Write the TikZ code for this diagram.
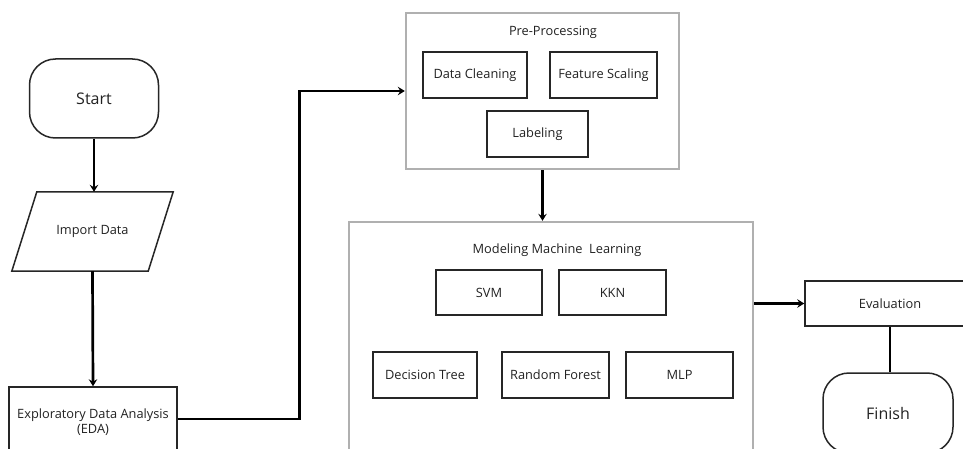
\documentclass[tikz,border=0pt]{standalone}
\usepackage{fontspec}
\setmainfont{Open Sans}
\usetikzlibrary{arrows.meta,calc}
\definecolor{txt}{HTML}{222222}
\definecolor{frame}{HTML}{B0B0B0}
\begin{document}
\begin{tikzpicture}[x=1pt,y=-1pt,
  every node/.style={text=txt, font=\fontsize{12.8}{15.5}\selectfont, inner sep=0pt, align=center},
  box/.style={draw=black!85, line width=1.5pt, minimum width=#1, minimum height=46},
  box/.default=105,
  container/.style={draw=frame, line width=2.4pt},
  term/.style={draw=black!85, line width=1.5pt, rounded corners=26pt, minimum width=129, minimum height=79, font=\fontsize{16}{19}\selectfont},
  arr/.style={line width=2.7pt, -{Stealth[length=7pt,width=8.5pt,inset=2.5pt]}},
  plain/.style={line width=2.7pt}]
\useasboundingbox (0,0) rectangle (963,449);
\clip (0,0) rectangle (963,449);
\fill[white] (0,0) rectangle (963,449);

% left column
\node[term] (start) at (94,98.5) {Start};
\node[minimum width=136, minimum height=79] (imp) at (92.5,231.5) {Import Data};
\draw[line width=1.5pt, draw=black!85] ($(imp.north west)+(12.5,0)$) -- ($(imp.north east)+(12.5,0)$)
  -- ($(imp.south east)+(-12.5,0)$) -- ($(imp.south west)+(-12.5,0)$) -- cycle;
\node[draw=black!85, line width=1.5pt, minimum width=168, minimum height=71] (eda) at (93,422.5) {};
\node at (93,422) {Exploratory Data Analysis\\(EDA)};

% pre-processing
\node[container, minimum width=273, minimum height=156] (pre) at (542.5,91) {};
\node (pret) at (553,32) {Pre-Processing};
\node[box=104] (clean) at (475,75) {Data Cleaning};
\node[box=107] (scale) at (603.5,75) {Feature Scaling};
\node[box=101] (label) at (537.5,134) {Labeling};

% modeling
\node[container, minimum width=404, minimum height=250] (mod) at (551,347) {};
\node (modt) at (557,250) {Modeling Machine\ \ Learning};
\node[box=106, minimum height=45] (svm) at (489,292.5) {SVM};
\node[box=107, minimum height=45] (kkn) at (612.5,292.5) {KKN};
\node[box=104] (dt) at (425,375) {Decision Tree};
\node[box=107] (rf) at (555.5,375) {Random Forest};
\node[box=107] (mlp) at (679.5,375) {MLP};

% evaluation and finish
\node[draw=black!85, line width=1.5pt, minimum width=170, minimum height=45] (eval) at (890,303.5) {Evaluation};
\node[term, minimum width=130, minimum height=80] (fin) at (888,413) {Finish};

% connectors
\draw[arr] (start.south) -- (start.south |- imp.north);
\draw[arr] (imp.south) -- (eda.north);
\draw[arr] ([yshift=3.5pt]eda.east) -- ++(122,0) |- (pre.west);
\draw[arr] (pre.south) -- (pre.south |- mod.north);
\draw[arr] (eval.west -| mod.east) -- (eval.west);
\draw[plain] (eval.south) -- (eval.south |- fin.north);
\end{tikzpicture}
\end{document}
